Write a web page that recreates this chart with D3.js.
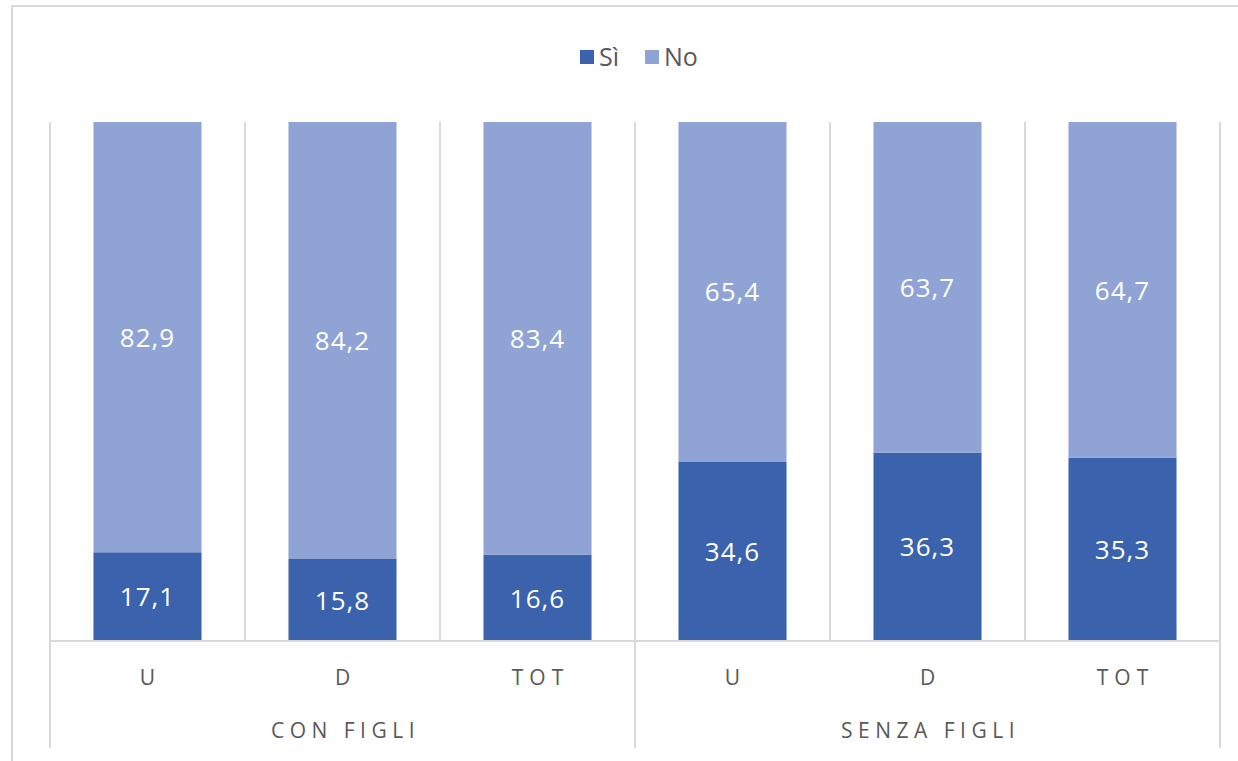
<!DOCTYPE html>
<html>
<head>
<meta charset="utf-8">
<script src="https://cdn.jsdelivr.net/npm/d3@7"></script>
<style>
body{margin:0;background:#fff;}
svg text{font-family:"Open Sans","Noto Sans",sans-serif;}
</style>
</head>
<body>
<svg id="svg" width="1238" height="761"></svg>
<script>
var groups=["CON FIGLI","SENZA FIGLI"];
var subcats=["U","D","TOT"];
var si=[17.1,15.8,16.6,34.6,36.3,35.3];
var no=[82.9,84.2,83.4,65.4,63.7,64.7];
var seriesNames=["Sì","No"];
var colors=["#3a62ad","#8fa3d4"];

var plotLeft=50,plotRight=1220,plotTop=122,plotBottom=641;
var svg=d3.select("#svg");

var rows=si.map((d,i)=>({key:i,group:groups[Math.floor(i/3)],sub:subcats[i%3],"Sì":d,"No":no[i]}));
var stack=d3.stack().keys(seriesNames)(rows);

var x=d3.scaleBand().domain(rows.map(d=>d.key)).range([plotLeft,plotRight]).paddingInner(0.446).paddingOuter(0.223);
var y=d3.scaleLinear().domain([0,100]).range([plotBottom,plotTop]);

// outer frame
svg.append("path").attr("d","M12,761V6H1238").attr("fill","none").attr("stroke","#d9d9d9").attr("stroke-width",2);

// vertical gridlines between categories
var bounds=d3.range(7).map(i=>plotLeft+i*(plotRight-plotLeft)/6);
svg.selectAll(".grid").data(bounds).enter().append("line")
    .attr("x1",d=>d).attr("x2",d=>d)
    .attr("y1",plotTop)
    .attr("y2",(d,i)=>i%3==0?748:plotBottom)
    .attr("stroke","#d9d9d9").attr("stroke-width",2);

// bars
svg.selectAll(".layer").data(stack).enter().append("g")
    .attr("fill",(d,i)=>colors[i])
    .selectAll("rect").data(d=>d).enter().append("rect")
        .attr("x",d=>x(d.data.key))
        .attr("width",x.bandwidth())
        .attr("y",d=>y(d[1]))
        .attr("height",d=>y(d[0])-y(d[1]));

// data labels
stack.forEach(s=>{
    svg.append("g").selectAll("text").data(s).enter().append("text")
        .attr("x",d=>x(d.data.key)+x.bandwidth()/2)
        .attr("y",d=>(y(d[0])+y(d[1]))/2)
        .attr("dy","0.37em")
        .attr("text-anchor","middle")
        .attr("fill","#fff")
        .style("font-size","26px").style("letter-spacing","1px")
        .text(d=>d3.format(".1f")(d[1]-d[0]).replace(".",","));
});

// x axis line
svg.append("line").attr("x1",plotLeft).attr("x2",plotRight).attr("y1",plotBottom).attr("y2",plotBottom)
    .attr("stroke","#d9d9d9").attr("stroke-width",2);

// category labels
svg.append("g").selectAll("text").data(rows).enter().append("text")
    .attr("x",d=>x(d.key)+x.bandwidth()/2+3)
    .attr("y",678).attr("dy","0.35em")
    .attr("text-anchor","middle")
    .attr("fill","#595959")
    .style("font-size","21px").style("letter-spacing","6px")
    .text(d=>d.sub);

// group labels
svg.append("g").selectAll("text").data(groups).enter().append("text")
    .attr("x",(d,i)=>plotLeft+(i+0.5)*(plotRight-plotLeft)/2+3)
    .attr("y",731).attr("dy","0.35em")
    .attr("text-anchor","middle")
    .attr("fill","#595959")
    .style("font-size","21px").style("letter-spacing","5.5px")
    .text(d=>d);

// legend
var lg=svg.append("g").attr("transform","translate(580,57)");
var lx=[0,65];
seriesNames.forEach((n,i)=>{
    lg.append("rect").attr("x",lx[i]).attr("y",-7).attr("width",14).attr("height",14).attr("fill",colors[i]);
    lg.append("text").attr("x",lx[i]+19).attr("y",0).attr("dy","0.35em")
        .attr("fill","#595959").style("font-size","25px").text(n);
});
</script>
</body>
</html>
